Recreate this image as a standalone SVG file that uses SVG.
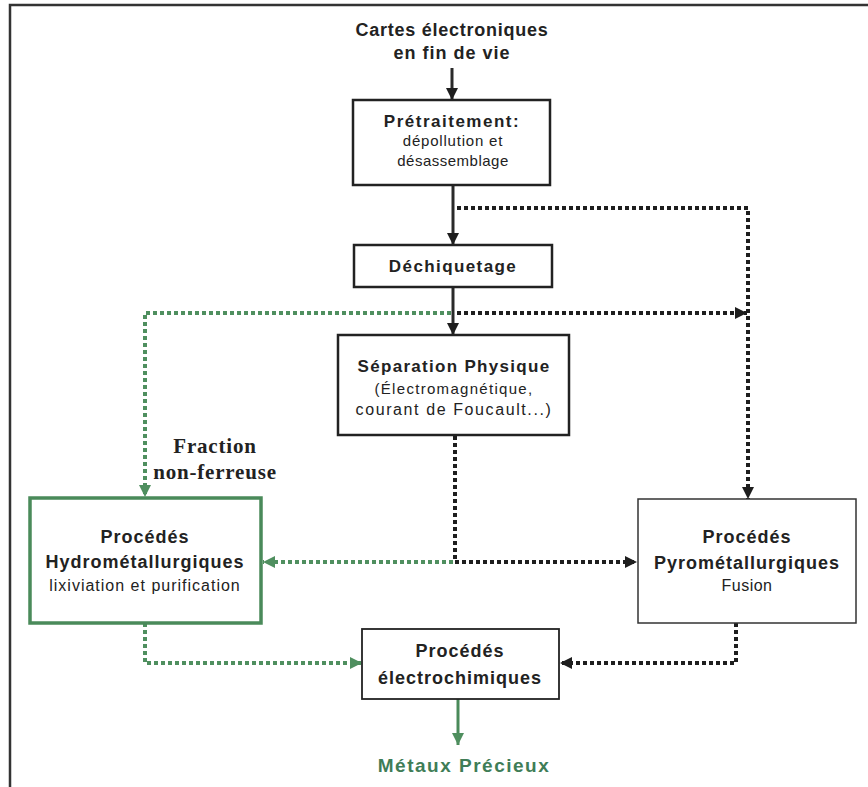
<svg xmlns="http://www.w3.org/2000/svg" width="868" height="787" viewBox="0 0 868 787">
<style>
.bx{fill:#fff;stroke:#222;stroke-width:2.5}
.t{font-family:"Liberation Sans",Arial,sans-serif;fill:#222;text-anchor:middle}
.b{font-weight:bold}
.solid{fill:none;stroke:#2a2a2a;stroke-width:3}
.dk{fill:none;stroke:#1e1e1e;stroke-width:4;stroke-dasharray:4 3}
.gr{fill:none;stroke:#4f8f5f;stroke-width:4;stroke-dasharray:4 3}
.sg{fill:none;stroke:#4a8a5a;stroke-width:3}
.h{font-size:18px;letter-spacing:1px}
.n{font-size:16px;letter-spacing:0.8px}
</style>
<defs>
<marker id="ak" viewBox="0 0 10 10" refX="10" refY="5" markerWidth="12" markerHeight="12" markerUnits="userSpaceOnUse" orient="auto"><path d="M0,0L10,5L0,10Z" fill="#1e1e1e"/></marker>
<marker id="ag" viewBox="0 0 10 10" refX="10" refY="5" markerWidth="12" markerHeight="12" markerUnits="userSpaceOnUse" orient="auto"><path d="M0,0L10,5L0,10Z" fill="#4f8f5f"/></marker>
</defs>
<rect width="868" height="787" fill="#fff"/>
<g id="frame"><path d="M868,5H10V787" fill="none" stroke="#333" stroke-width="2.5"/></g>
<g id="connectors">
<path class="solid" d="M452,68V100" marker-end="url(#ak)"/>
<path class="solid" d="M453,185V245" marker-end="url(#ak)"/>
<path class="solid" d="M453,287V335" marker-end="url(#ak)"/>
<path class="sg" d="M458,699V745" marker-end="url(#ag)"/>
<path class="dk" d="M457,208H748V499" marker-end="url(#ak)"/>
<path class="dk" d="M457,313H747" marker-end="url(#ak)"/>
<path class="gr" d="M451,313H145V497" marker-end="url(#ag)"/>
<path class="dk" d="M455,436V562H637" marker-end="url(#ak)"/>
<path class="gr" d="M453,562H263" marker-end="url(#ag)"/>
<path class="dk" d="M736,623V663H560" marker-end="url(#ak)"/>
<path class="gr" d="M145,623V663H362" marker-end="url(#ag)"/>
</g>
<g id="source"><text class="t b" x="452" y="36" style="font-size:18px;letter-spacing:0.75px">Cartes électroniques</text><text class="t b" x="452" y="59" style="font-size:18px;letter-spacing:1px">en fin de vie</text></g>
<g id="pretraitement"><rect class="bx" x="353" y="100" width="197" height="85"/><text class="t b" x="452" y="127" style="font-size:17px;letter-spacing:1.5px">Prétraitement:</text><text class="t" x="453" y="146" style="font-size:15px;letter-spacing:0.8px">dépollution et</text><text class="t" x="453" y="166" style="font-size:15px;letter-spacing:0.5px">désassemblage</text></g>
<g id="dechiquetage"><rect class="bx" x="354" y="245" width="198" height="42"/><text class="t b" x="453" y="272" style="font-size:17px;letter-spacing:1.4px">Déchiquetage</text></g>
<g id="separation"><rect class="bx" x="338" y="335" width="231" height="100"/><text class="t b" x="454" y="372" style="font-size:17px;letter-spacing:1.3px">Séparation Physique</text><text class="t" x="454" y="394" style="font-size:15px;letter-spacing:1.3px">(Électromagnétique,</text><text class="t" x="454" y="415" style="font-size:16px;letter-spacing:1.6px">courant de Foucault...)</text></g>
<g id="fraction"><text x="215" y="453" font-family="Liberation Serif,Times New Roman,serif" font-weight="bold" font-size="21" letter-spacing="0.8" fill="#222" text-anchor="middle">Fraction</text><text x="215" y="479" font-family="Liberation Serif,Times New Roman,serif" font-weight="bold" font-size="21" letter-spacing="0.8" fill="#222" text-anchor="middle">non-ferreuse</text></g>
<g id="hydro"><rect x="30" y="498" width="231" height="125" fill="#fff" stroke="#4a8a5a" stroke-width="3.5"/><text class="t b h" x="145" y="543">Procédés</text><text class="t b h" x="145" y="568">Hydrométallurgiques</text><text class="t n" x="145" y="591" style="letter-spacing:1px">lixiviation et purification</text></g>
<g id="pyro"><rect x="638" y="499" width="218" height="124" fill="#fff" stroke="#333" stroke-width="1.5"/><text class="t b h" x="747" y="543">Procédés</text><text class="t b h" x="747" y="569">Pyrométallurgiques</text><text class="t n" x="747" y="591" style="letter-spacing:0.5px">Fusion</text></g>
<g id="electro"><rect x="362" y="629" width="197" height="70" fill="#fff" stroke="#222" stroke-width="1.8"/><text class="t b h" x="460" y="657">Procédés</text><text class="t b h" x="460" y="684">électrochimiques</text></g>
<g id="metaux"><text class="t b" x="464" y="772" style="font-size:19px;letter-spacing:1.5px;fill:#3f7d57">Métaux Précieux</text></g>
</svg>
